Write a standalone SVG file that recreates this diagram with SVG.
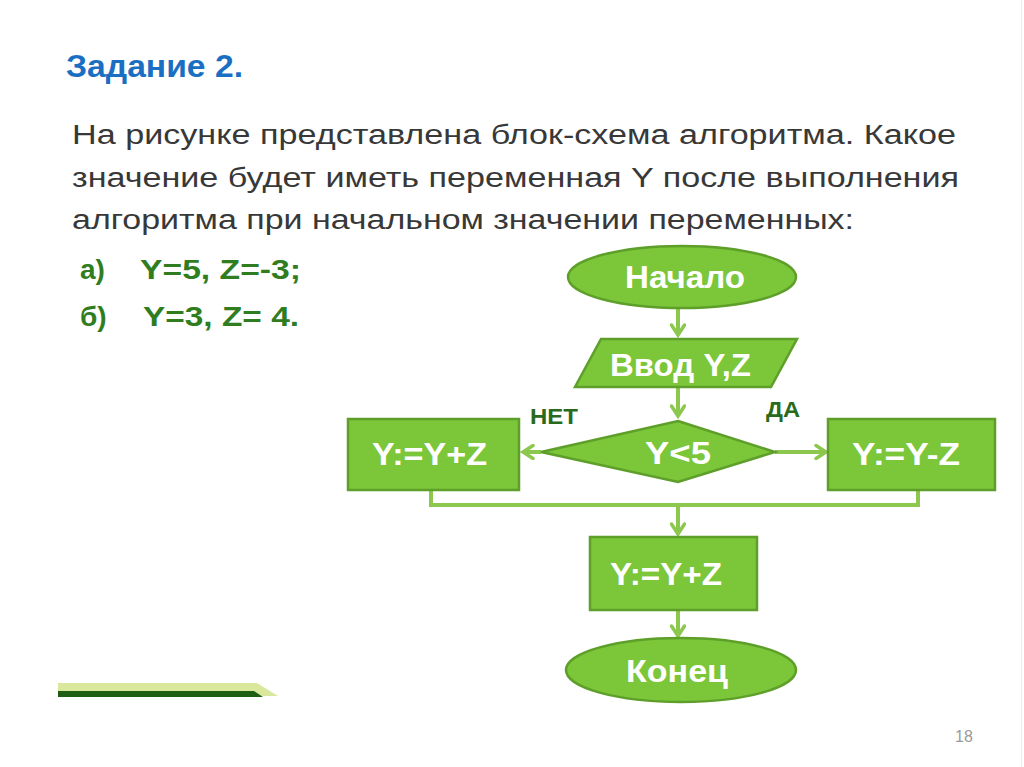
<svg xmlns="http://www.w3.org/2000/svg" width="1024" height="767" viewBox="0 0 1024 767">
<defs>
<style>
.body{font-family:"Liberation Sans",Arial,sans-serif;font-size:27px;fill:#383838}
.opt{font-family:"Liberation Sans",Arial,sans-serif;font-size:28px;fill:#2f7d1f;font-weight:bold}
.node{fill:#7cc63a;stroke:#5e9f2a;stroke-width:2.5}
.nt{font-family:"Liberation Sans",Arial,sans-serif;font-size:31px;fill:#ffffff;font-weight:bold}
.lbl{font-family:"Liberation Sans",Arial,sans-serif;font-size:22px;fill:#2a6a1c;font-weight:bold}
.con{fill:none;stroke:#8cc74e;stroke-width:4}
</style>
<marker id="ah" markerWidth="16" markerHeight="16" refX="12" refY="8" orient="auto" markerUnits="userSpaceOnUse" viewBox="0 0 16 16">
<path d="M2,1.5 L12,8 L2,14.5" fill="none" stroke="#8cc74e" stroke-width="3.5" stroke-linecap="round"/>
</marker>
</defs>
<rect x="0" y="0" width="1024" height="767" fill="#ffffff"/>
<line x1="1021.5" y1="0" x2="1021.5" y2="767" stroke="#ececec" stroke-width="1"/>

<text x="66" y="77" font-family="Liberation Sans, Arial, sans-serif" font-size="31" font-weight="bold" fill="#1b6fc2" textLength="177" lengthAdjust="spacingAndGlyphs">Задание 2.</text>

<text class="body" x="72" y="144" textLength="884" lengthAdjust="spacingAndGlyphs">На рисунке представлена блок-схема алгоритма. Какое</text>
<text class="body" x="72" y="187" textLength="887" lengthAdjust="spacingAndGlyphs">значение будет иметь переменная Y после выполнения</text>
<text class="body" x="72" y="229" textLength="782" lengthAdjust="spacingAndGlyphs">алгоритма при начальном значении переменных:</text>

<text class="opt" x="80" y="279">а)</text>
<text class="opt" x="140" y="279" textLength="161" lengthAdjust="spacingAndGlyphs">Y=5, Z=-3;</text>
<text class="opt" x="80" y="326">б)</text>
<text class="opt" x="143" y="326" textLength="156" lengthAdjust="spacingAndGlyphs">Y=3, Z= 4.</text>

<g id="connectors">
<line class="con" x1="678" y1="309" x2="678" y2="335" marker-end="url(#ah)"/>
<line class="con" x1="678" y1="388" x2="678" y2="416" marker-end="url(#ah)"/>
<line class="con" x1="541" y1="452" x2="523" y2="452" marker-end="url(#ah)"/>
<line class="con" x1="775" y1="452" x2="826" y2="452" marker-end="url(#ah)"/>
<polyline class="con" points="431,491 431,505 918,505 918,491"/>
<line class="con" x1="678" y1="505" x2="678" y2="534" marker-end="url(#ah)"/>
<line class="con" x1="678" y1="611" x2="678" y2="636" marker-end="url(#ah)"/>
</g>

<g id="start">
<ellipse class="node" cx="682" cy="277" rx="114" ry="31"/>
<text class="nt" x="625" y="288" textLength="120" lengthAdjust="spacingAndGlyphs">Начало</text>
</g>

<g id="input">
<polygon class="node" points="601,339 797,339 771,387 575,387"/>
<text class="nt" x="610" y="376" textLength="141" lengthAdjust="spacingAndGlyphs">Ввод Y,Z</text>
</g>

<g id="cond">
<polygon class="node" points="678,421 775,452 678,482 541,452"/>
<text class="nt" x="645" y="464" textLength="66" lengthAdjust="spacingAndGlyphs">Y&lt;5</text>
</g>
<text class="lbl" x="530" y="424" textLength="48" lengthAdjust="spacingAndGlyphs">НЕТ</text>
<text class="lbl" x="766" y="417" textLength="34" lengthAdjust="spacingAndGlyphs">ДА</text>

<g id="no-branch">
<rect class="node" x="348" y="419" width="171" height="71"/>
<text class="nt" x="372" y="465" textLength="115" lengthAdjust="spacingAndGlyphs">Y:=Y+Z</text>
</g>

<g id="yes-branch">
<rect class="node" x="828" y="419" width="167" height="71"/>
<text class="nt" x="852" y="465" textLength="108" lengthAdjust="spacingAndGlyphs">Y:=Y-Z</text>
</g>

<g id="step">
<rect class="node" x="590" y="537" width="167" height="73"/>
<text class="nt" x="610" y="585" textLength="112" lengthAdjust="spacingAndGlyphs">Y:=Y+Z</text>
</g>

<g id="end">
<ellipse class="node" cx="681" cy="670" rx="115" ry="32"/>
<text class="nt" x="626" y="682" textLength="102" lengthAdjust="spacingAndGlyphs">Конец</text>
</g>

<polygon points="58,683 257,683 278,696 58,696" fill="#d9e89c"/>
<polygon points="58,691 254,691 263,697 58,697" fill="#1f5e15"/>

<text x="955" y="742" font-family="Liberation Sans, Arial, sans-serif" font-size="16" fill="#9a9a9a">18</text>
</svg>
